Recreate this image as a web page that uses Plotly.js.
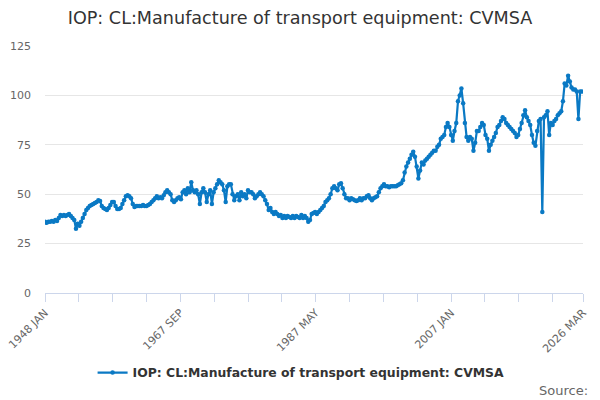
<!DOCTYPE html>
<html>
<head>
<meta charset="utf-8">
<script src="https://cdn.plot.ly/plotly-3.0.1.min.js"></script>
<style>
  html, body { margin: 0; padding: 0; background: #fff; }
  #graph { width: 600px; height: 400px; }
</style>
</head>
<body>
<div id="graph"></div>
<script>
"use strict";

// --- VERİ: çeyreklik okuma, 1948 Q1 başlangıç ---
const seriesName = 'IOP: CL:Manufacture of transport equipment: CVMSA';
const startYear = 1948;
const stepMonths = 3;

const values1948_1959 = [
    36, 35.5, 36, 36,   36.5, 36, 37, 36.5,   38, 39.5, 39, 39.5,   39, 39.5, 40, 39,
    38, 37, 32.5, 35,   34, 36, 38, 40,       42, 43, 44, 44.5,     45, 45.5, 46, 47,
    46.5, 44, 43, 42.5, 42, 43, 44.5, 46,     46, 44, 42.5, 42.5,   43, 45, 47, 49
];
const values1960_1971 = [
    49.5, 49, 48, 45,   43.5, 44, 44, 44,     44, 44.5, 44, 44,     44.5, 45, 46, 47,
    48, 49, 48, 48.5,   48, 49.5, 51, 52,     51, 50, 47, 46,       47, 48, 48.5, 47.5,
    51, 52, 50, 53,     51, 56, 52, 51,       52, 50, 45, 51,       53, 51, 46, 50
];
const values1972_1983 = [
    52, 45, 51, 53,     55, 57, 56, 55,       52, 46, 54, 55,       55, 50, 47, 49,
    50, 47, 51, 49,     50, 48, 52, 51,       51, 50, 48, 49,       50, 51, 50, 49,
    47, 45, 42, 43,     41, 40, 41, 40,       39, 39.5, 38, 39,     38, 39, 38.5, 38
];
const values1984_1995 = [
    39, 38, 39, 38.5,   38, 39.5, 38, 39,     38, 36, 37, 40,       40.5, 41, 40, 41,
    42, 43, 44, 46,     47, 48, 50, 53,       54, 53, 52, 55,       55.5, 53, 50, 48,
    48, 47, 48, 47.5,   47, 46.5, 47, 48,     47, 48, 48, 49,       49.5, 48, 47, 48
];
const values1996_2007 = [
    48.5, 49, 51, 53,   54, 55, 54, 54,       53.5, 54, 54, 54,     54, 54.5, 55, 55.5,
    57, 61, 64, 66,     68, 70, 71.5, 69,     64, 58, 62, 66,       65, 67, 68, 69,
    70, 71, 72, 72,     74, 75, 78, 79,       80, 84, 86, 84,       80, 77, 82, 86
];
const values2008_2019 = [
    97, 100, 103.5, 96, 86, 79, 77, 79,       78, 72, 76, 82,       82, 84, 86, 85,
    80, 78, 72, 75,     77, 79, 81, 84,       85, 87, 89, 88,       86, 85, 84, 83,
    82, 81, 79, 80,     83, 86, 90, 92.5,     89, 87, 85, 80,       76, 74.5, 82, 87
];
const values2020_2026 = [
    88, 41, 89, 90,     92, 80, 86, 85,       87, 88, 90, 91,       92, 97, 106, 105,
    110, 107, 104, 103, 103, 102, 88, 102,    102
];

const monthNames = ['JAN', 'FEB', 'MAR', 'APR', 'MAY', 'JUN', 'JUL', 'AUG', 'SEP', 'OCT', 'NOV', 'DEC'];
const tickStepMonths = 59;
const lastPeriod = '2026-03-01';

function ayTarihi(monthOffset) {
    const d = new Date(Date.UTC(startYear, monthOffset, 1));
    return d.toISOString().slice(0, 10);
}

function ayEtiketi(isoDate) {
    const d = new Date(isoDate + 'T00:00:00Z');
    return d.getUTCFullYear() + ' ' + monthNames[d.getUTCMonth()];
}

function cizGrafik(divId) {
    const graphDiv = document.getElementById(divId);
    if (!graphDiv) {
        console.error(`Grafik div'i bulunamadı: ${divId}`);
        return;
    }

    const yValues = [].concat(values1948_1959, values1960_1971, values1972_1983,
        values1984_1995, values1996_2007, values2008_2019, values2020_2026);
    const xValues = yValues.map((_, i) => ayTarihi(i * stepMonths));

    // eksen işaretleri: her 59 ayda bir, her 4.'sü etiketli + son dönem
    const tickVals = [];
    const tickText = [];
    for (let k = 0; k * tickStepMonths < 938; k++) {
        const iso = ayTarihi(k * tickStepMonths);
        tickVals.push(iso);
        tickText.push(k % 4 === 0 ? ayEtiketi(iso) : '');
    }
    tickVals.push(lastPeriod);
    tickText.push(ayEtiketi(lastPeriod));

    const trace = {
        x: xValues, y: yValues, type: 'scatter', mode: 'lines+markers', name: '<b>' + seriesName + '</b>',
        line: { color: '#0a79c4', width: 2.2 },
        marker: { color: '#0a79c4', size: 4.5 }
    };

    const layout = {
        width: 600, height: 400,
        paper_bgcolor: '#ffffff', plot_bgcolor: '#ffffff',
        font: { family: 'DejaVu Sans, sans-serif', color: '#666666' },
        title: {
            text: seriesName, x: 0.5, xanchor: 'center', y: 0.955, yref: 'container', yanchor: 'middle',
            font: { family: 'DejaVu Sans, sans-serif', size: 17.6, color: '#333333' }
        },
        margin: { t: 46, b: 107, l: 45, r: 17 },
        xaxis: {
            type: 'date', range: ['1948-01-01', lastPeriod],
            tickmode: 'array', tickvals: tickVals, ticktext: tickText, tickangle: -45,
            ticks: 'outside', ticklen: 8, tickcolor: '#ccd6eb',
            showline: true, linecolor: '#ccd6eb', linewidth: 1,
            showgrid: false, zeroline: false,
            tickfont: { size: 11, color: '#666666' }
        },
        yaxis: {
            range: [0, 125], dtick: 25, tick0: 0,
            showgrid: true, gridcolor: '#e6e6e6', zeroline: false, showline: false,
            ticks: '', ticklabelstandoff: 13, tickfont: { size: 11, color: '#666666' }
        },
        showlegend: true,
        legend: {
            orientation: 'h', x: 0.476, xanchor: 'center', y: -0.324, yanchor: 'middle',
            itemwidth: 30,
            font: { size: 12.4, color: '#333333' }
        },
        annotations: [{
            text: 'Source:', xref: 'paper', yref: 'paper', x: 1.013, y: -0.393,
            xanchor: 'right', yanchor: 'middle', showarrow: false,
            font: { size: 13, color: '#666666' }
        }]
    };

    Plotly.newPlot(divId, [trace], layout, { displayModeBar: false, staticPlot: true }).catch(err => {
        console.error("Grafik çizilirken hata:", err);
    });
}

cizGrafik('graph');
</script>
</body>
</html>
